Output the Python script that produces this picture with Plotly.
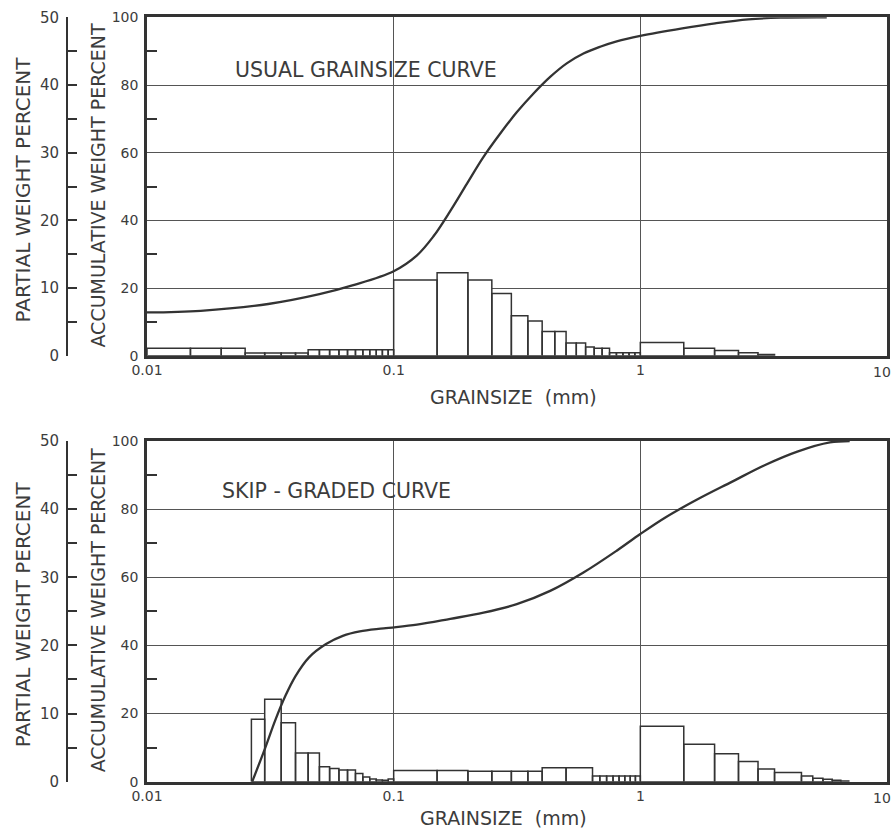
import plotly.graph_objects as go

# ---------------- data ----------------
# USUAL GRAINSIZE CURVE : histogram (partial weight %) bin edges (mm) and heights
top_edges = [0.010, 0.015, 0.020, 0.025, 0.030, 0.035, 0.040, 0.045, 0.050, 0.055,
             0.060, 0.065, 0.070, 0.075, 0.080, 0.085, 0.090, 0.095, 0.100,
             0.15, 0.20, 0.25, 0.30, 0.35, 0.40, 0.45, 0.50, 0.55, 0.60,
             0.65, 0.70, 0.75, 0.80, 0.85, 0.90, 0.95, 1.00,
             1.5, 2.0, 2.5, 3.0, 3.5]
top_heights = [1.1, 1.1, 1.1, 0.4, 0.4, 0.4, 0.4, 0.9, 0.9, 0.9,
               0.9, 0.9, 0.9, 0.9, 0.9, 0.9, 0.9, 0.9,
               11.2, 12.25, 11.2, 9.2, 5.9, 5.15, 3.6, 3.6, 1.9, 1.9,
               1.3, 1.1, 1.1, 0.45, 0.45, 0.45, 0.45, 0.45,
               1.95, 1.1, 0.8, 0.45, 0.2]
# cumulative curve (accumulative weight %)
top_curve_d = [0.010, 0.0165, 0.031, 0.050, 0.068, 0.100, 0.124, 0.145, 0.170,
               0.198, 0.231, 0.270, 0.316, 0.369, 0.431, 0.503, 0.588, 0.687, 0.802, 1.0,
               1.48, 2.01, 2.74, 3.71, 5.7]
top_curve_c = [12.8, 13.3, 15.3, 18.2, 20.8, 25.0, 29.6, 35.3, 42.9,
               50.8, 58.7, 65.6, 72.0, 77.5, 82.4, 86.4, 89.3, 91.3, 92.9, 94.5,
               96.7, 98.2, 99.4, 99.9, 100.0]

# SKIP-GRADED CURVE
bot_edges = [0.0265, 0.030, 0.035, 0.040, 0.045, 0.050, 0.055, 0.060, 0.065, 0.070,
             0.075, 0.080, 0.085, 0.090, 0.095, 0.100,
             0.15, 0.20, 0.25, 0.30, 0.35, 0.40, 0.50, 0.64,
             0.685, 0.73, 0.775, 0.82, 0.865, 0.91, 0.955, 1.00,
             1.5, 2.0, 2.5, 3.0, 3.5, 4.5, 5.0, 5.5, 6.0, 6.5, 7.0]
bot_heights = [9.15, 12.1, 8.65, 4.2, 4.2, 2.2, 1.95, 1.7, 1.7, 1.2,
               0.7, 0.4, 0.25, 0.2, 0.4,
               1.65, 1.65, 1.55, 1.55, 1.55, 1.55, 2.05, 2.05,
               0.85, 0.85, 0.85, 0.85, 0.85, 0.85, 0.85, 0.85,
               8.15, 5.5, 4.1, 2.95, 1.85, 1.35, 0.85, 0.5, 0.35, 0.2, 0.1]
bot_curve_d = [0.0267, 0.0301, 0.0331, 0.0364, 0.040, 0.0454, 0.0532, 0.0622, 0.0729,
               0.0911, 0.1243, 0.1697, 0.2314, 0.3156, 0.431, 0.588, 0.802, 1.0,
               1.273, 1.729, 2.347, 3.19, 4.33, 5.87, 7.06]
bot_curve_c = [0.0, 9.8, 18.0, 25.2, 31.0, 36.5, 40.4, 42.8, 44.1,
               45.0, 46.1, 47.8, 49.6, 52.1, 56.0, 61.4, 67.8, 72.7,
               77.7, 83.1, 88.0, 92.9, 96.9, 99.6, 100.0]

x_tickvals = [0.01, 0.1, 1, 10]
x_ticktext = ["0.01", "0.1", "1", ""]   # "10" is written as an annotation at the edge
x_last_label = "10"
partial_ticks = [0, 10, 20, 30, 40, 50]
partial_minor = [5, 15, 25, 35, 45]
accum_ticks = [0, 20, 40, 60, 80, 100]
accum_minor = [10, 30, 50, 70, 90]

# ---------------- styling ----------------
W, H = 895, 832
FONT = "DejaVu Sans"
INK = "#333333"
TXT = "#3c3c3c"


def px_x(v):
    return v / W


def px_y(v):
    return 1 - v / H


def rect_path(edges, heights):
    xs, ys = [], []
    for i, h in enumerate(heights):
        x0, x1 = edges[i], edges[i + 1]
        xs += [x0, x0, x1, x1, x0, None]
        ys += [0, h, h, 0, 0, None]
    return xs, ys


fig = go.Figure()

panels = [
    dict(edges=top_edges, heights=top_heights, cd=top_curve_d, cc=top_curve_c,
         top=17.3, bottom=355.8, xa="x", ya="y", yc="y3",
         title="USUAL GRAINSIZE CURVE", tx=233, ty=70, gy=396.5, gx=513),
    dict(edges=bot_edges, heights=bot_heights, cd=bot_curve_d, cc=bot_curve_c,
         top=441.0, bottom=781.7, xa="x2", ya="y2", yc="y4",
         title="SKIP - GRADED CURVE", tx=220, ty=491, gy=818, gx=504),
]

x_dom = [px_x(147), px_x(887)]
annotations = []

for k, p in enumerate(panels):
    bx, by = rect_path(p["edges"], p["heights"])
    fig.add_trace(go.Scatter(x=bx, y=by, xaxis=p["xa"], yaxis=p["ya"], mode="lines",
                             fill="toself", fillcolor="white",
                             line=dict(color=INK, width=1.5), hoverinfo="skip",
                             showlegend=False))
    fig.add_trace(go.Scatter(x=p["cd"], y=p["cc"], xaxis=p["xa"], yaxis=p["yc"],
                             mode="lines", line=dict(color=INK, width=2.3, shape="spline",
                                                     smoothing=1.0),
                             hoverinfo="skip", showlegend=False))

    dom = [px_y(p["bottom"]), px_y(p["top"])]
    suffix = "" if k == 0 else "2"
    ysuffix_main = "" if k == 0 else "2"
    ysuffix_cum = "3" if k == 0 else "4"

    fig.update_layout(**{
        "xaxis" + suffix: dict(
            domain=x_dom, type="log", range=[-2, 1], anchor=p["ya"], automargin=False,
            showline=True, mirror=True, linewidth=2.5, linecolor=INK,
            showgrid=True, gridcolor="#555555", gridwidth=1,
            tickvals=x_tickvals, ticktext=x_ticktext, ticks="",
            ticklabelstandoff=0,
            tickfont=dict(family=FONT, size=14, color=TXT), zeroline=False,
        ),
        "yaxis" + ysuffix_main: dict(
            domain=dom, range=[0, 50], anchor="free", position=px_x(67), side="left",
            automargin=False,
            showline=True, linewidth=2, linecolor=INK,
            tickvals=partial_ticks, ticks="inside", ticklen=9, tickwidth=1.5,
            tickcolor=INK,
            minor=dict(tickvals=partial_minor, ticks="inside", ticklen=9,
                       tickwidth=1.5, tickcolor=INK, showgrid=False),
            showgrid=True, gridcolor="#555555", gridwidth=1,
            tickfont=dict(family=FONT, size=15, color=TXT), ticklabelstandoff=4,
            zeroline=False,
        ),
        "yaxis" + ysuffix_cum: dict(
            range=[0, 100], overlaying=p["ya"], anchor=p["xa"], side="left",
            automargin=False,
            showline=True, mirror=True, linewidth=2.5, linecolor=INK,
            tickvals=accum_ticks, ticks="", showgrid=False,
            minor=dict(tickvals=accum_minor, ticks="inside", ticklen=10,
                       tickwidth=1.5, tickcolor=INK, showgrid=False),
            tickfont=dict(family=FONT, size=14, color=TXT), ticklabelstandoff=3,
            zeroline=False,
        ),
    })

    mid = (p["top"] + p["bottom"]) / 2
    annotations += [
        dict(text=p["title"], x=px_x(p["tx"]), y=px_y(p["ty"]), xref="paper", yref="paper",
             xanchor="left", yanchor="middle", showarrow=False,
             font=dict(family=FONT, size=20.5, color=TXT)),
        dict(text="GRAINSIZE\u00a0\u00a0(mm)", x=px_x(p["gx"]), y=px_y(p["gy"]),
             xref="paper", yref="paper", xanchor="center", yanchor="middle",
             showarrow=False, font=dict(family=FONT, size=19, color=TXT)),
        dict(text="PARTIAL WEIGHT PERCENT", x=px_x(23), y=px_y(mid + 3), xref="paper",
             yref="paper", xanchor="center", yanchor="middle", textangle=-90,
             showarrow=False, font=dict(family=FONT, size=20, color=TXT)),
        dict(text="ACCUMULATIVE WEIGHT PERCENT", x=px_x(98), y=px_y(mid - 1),
             xref="paper", yref="paper", xanchor="center", yanchor="middle",
             textangle=-90, showarrow=False, font=dict(family=FONT, size=19, color=TXT)),
        dict(text=x_last_label, x=px_x(893), y=px_y(p["bottom"] + 16), xref="paper",
             yref="paper", xanchor="right", yanchor="middle", showarrow=False,
             font=dict(family=FONT, size=14, color=TXT)),
    ]

fig.update_layout(
    template="none",
    width=W, height=H, margin=dict(l=0, r=0, t=0, b=0, autoexpand=False),
    paper_bgcolor="white", plot_bgcolor="white",
    annotations=annotations, showlegend=False,
)

# place the figure at the window's corner (no default 8px page margin, no scrollbars)
fig.write_html(
    "out.html",
    config={"displayModeBar": False},
    post_script="document.body.style.margin='0';document.body.style.overflow='hidden';",
)
